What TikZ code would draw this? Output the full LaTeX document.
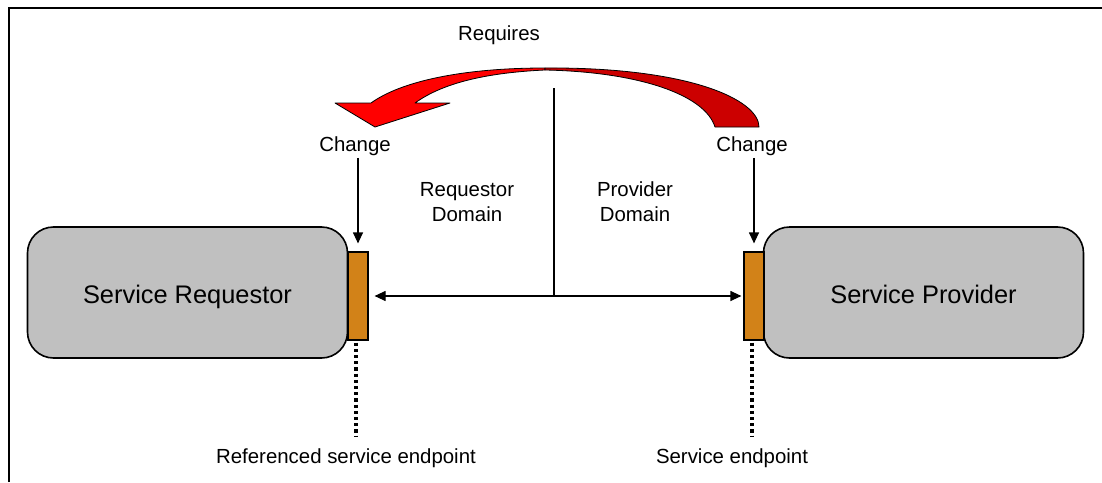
\documentclass[tikz,border=0pt]{standalone}
\usepackage{fontspec}
\setmainfont{Liberation Sans}
\usetikzlibrary{arrows.meta}
\definecolor{boxgray}{RGB}{192,192,192}
\definecolor{epor}{RGB}{210,130,24}
\definecolor{redA}{RGB}{255,0,0}
\definecolor{redB}{RGB}{204,0,0}
\begin{document}
\begin{tikzpicture}[x=0.5pt,y=-0.5pt,
  svc/.style={draw=black, line width=0.8pt, fill=boxgray, rounded corners=13pt,
    minimum width=160pt, minimum height=65.5pt, inner sep=0pt,
    text height=10.6pt, text depth=0pt,
    font=\fontsize{12.7}{15}\selectfont},
  ep/.style={draw=black, line width=0.6pt, fill=epor, minimum width=10pt,
    minimum height=44pt, inner sep=0pt},
  lbl/.style={font=\fontsize{10.2}{12.5}\selectfont, inner sep=1pt, align=center},
  arr/.style={-{Triangle[length=5.5pt,width=5pt]}, line width=0.6pt},
  darr/.style={{Triangle[length=5.5pt,width=5pt]}-{Triangle[length=5.5pt,width=5pt]}, line width=0.6pt},
  dotline/.style={line width=2pt, dash pattern=on 1.6pt off 1.5pt},
  ribbon/.style={draw=black, line width=0.4pt, line join=round}]
\useasboundingbox (0,0) rectangle (1102,482);
\draw[line width=0.8pt] (9,482) -- (9,8) -- (1102,8);

% service boxes and endpoints
\node[svc] (req) at (187.5,292.5) {Service Requestor};
\node[svc] (prov) at (923.5,292.5) {Service Provider};
\node[ep] (reqep) at (358,296) {};
\node[ep] (provep) at (754,296) {};

% labels
\node[lbl] (reqs) at (499,35) {Requires};
\node[lbl] (chgL) at (355,146) {Change};
\node[lbl] (chgR) at (752,146) {Change};
\node[lbl] (rdom) at (467,202) {Requestor\\Domain};
\node[lbl] (pdom) at (635,202) {Provider\\Domain};
\node[lbl] (refep) at (346,458) {Referenced service endpoint};
\node[lbl] (svcep) at (732,458) {Service endpoint};

% red curved arrow
\filldraw[ribbon, fill=redA] (545,68) .. controls (460,68) and (400,82) .. (371,103)
  -- (335,103) -- (375,127) -- (450,103) -- (415,103)
  .. controls (440,85) and (480,73) .. (545,70) -- cycle;
\filldraw[ribbon, fill=redB] (545,70) .. controls (640,72) and (705,95) .. (715,127)
  -- (759,127) .. controls (759,100) and (690,67) .. (545,68) -- cycle;

% change arrows
\draw[arr, shorten >=4pt] (chgL.south -| reqep.north) -- (reqep.north);
\draw[arr, shorten >=4pt] (chgR.south -| provep.north) -- (provep.north);

% domain divider and link
\coordinate (divtop) at (554,88);
\draw[line width=0.6pt] (divtop) -- (divtop |- reqep.east);
\draw[darr, shorten <=3pt, shorten >=1pt] (reqep.east) -- (provep.west);

% endpoint dotted lines
\coordinate (dL) at (356,437);
\coordinate (dR) at (752,437);
\draw[dotline] ([yshift=-1pt]reqep.south -| dL) -- (dL);
\draw[dotline] ([yshift=-1pt]provep.south -| dR) -- (dR);
\end{tikzpicture}
\end{document}
